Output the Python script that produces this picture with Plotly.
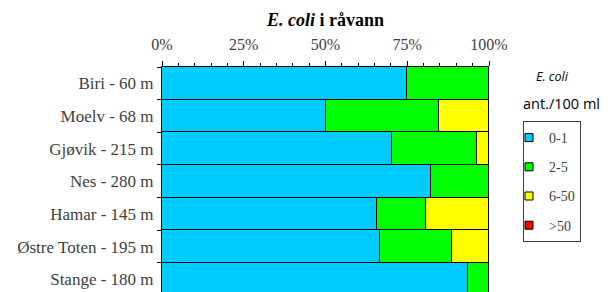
import plotly.graph_objects as go

stations = ["Biri - 60 m", "Moelv - 68 m", "Gjøvik - 215 m", "Nes - 280 m",
            "Hamar - 145 m", "Østre Toten - 195 m", "Stange - 180 m"]
cat_0_1 = [75.0, 50.0, 70.3, 82.4, 65.9, 66.7, 93.7]
cat_2_5 = [25.0, 34.6, 25.9, 17.6, 14.8, 22.1, 6.3]
cat_6_50 = [0.0, 15.4, 3.8, 0.0, 19.3, 11.2, 0.0]
cat_gt50 = [0.0, 0.0, 0.0, 0.0, 0.0, 0.0, 0.0]

series = [("0-1", cat_0_1, "#00CCFF"), ("2-5", cat_2_5, "#00FF00"),
          ("6-50", cat_6_50, "#FFFF00"), (">50", cat_gt50, "#FF0000")]

serif = "Liberation Serif, Times New Roman, serif"
fig = go.Figure()
for name, vals, col in series:
    fig.add_trace(go.Bar(
        y=stations, x=vals, name=name, orientation="h",
        marker=dict(color=col, line=dict(color="black", width=1)),
        showlegend=False,
    ))
for name, vals, col in series:
    fig.add_trace(go.Scatter(
        x=[None], y=[None], mode="markers", name=name, legendgroup=name,
        marker=dict(symbol="square", size=8, color=col,
                    line=dict(color="black", width=1)),
    ))

fig.update_layout(
    width=612, height=292,
    barmode="stack", bargap=0,
    margin=dict(l=162, r=123, t=67, b=0, autoexpand=False),
    plot_bgcolor="white", paper_bgcolor="white",
    title=dict(text="<b><i>E. coli</i> i råvann</b>", x=0.5, xref="paper",
               y=1 - 20 / 292, yref="container", yanchor="middle",
               font=dict(family=serif, size=18, color="black")),
    showlegend=True,
    legend=dict(x=523 / 612, xref="container", y=1 - 121 / 292, yref="container",
                yanchor="top", xanchor="left",
                bordercolor="#404040", borderwidth=1,
                font=dict(family=serif, size=14, color="#404040"),
                tracegroupgap=8, traceorder="grouped", itemwidth=30,
                indentation=-15),
    font=dict(family=serif, size=13, color="#404040"),
)
fig.update_xaxes(
    side="top", range=[0, 100], dtick=25, ticksuffix="%", automargin=False,
    ticks="outside", ticklen=5, tickcolor="black", showgrid=False,
    showline=True, linecolor="black", linewidth=1,
    minor=dict(dtick=5, ticks="outside", ticklen=3, tickcolor="black"),
    tickfont=dict(family=serif, size=16, color="#404040"),
    ticklabelstandoff=5, zeroline=False,
)
fig.update_yaxes(
    range=[6.39, -0.5], ticks="outside", tickson="boundaries", ticklen=4,
    automargin=False,
    tickcolor="black", showline=True, linecolor="black", linewidth=1,
    showgrid=False, tickfont=dict(family=serif, size=17, color="#404040"),
    ticklabelstandoff=4,
)
fig.add_annotation(text="<i>E. coli</i>", xref="paper", yref="paper",
                   x=(552 - 162) / 327, xanchor="center",
                   y=1 - (77 - 67) / 225, yanchor="middle", showarrow=False,
                   font=dict(family="Open Sans", size=12.5, color="black"))
fig.add_annotation(text="ant./100 ml", xref="paper", yref="paper",
                   x=(521 - 162) / 327, xanchor="left",
                   y=1 - (103 - 67) / 225, yanchor="middle",
                   showarrow=False,
                   font=dict(family="Open Sans", size=14.5, color="black"))
fig.write_html("out.html", config={"displayModeBar": False},
               post_script="document.body.style.margin='0px';")
